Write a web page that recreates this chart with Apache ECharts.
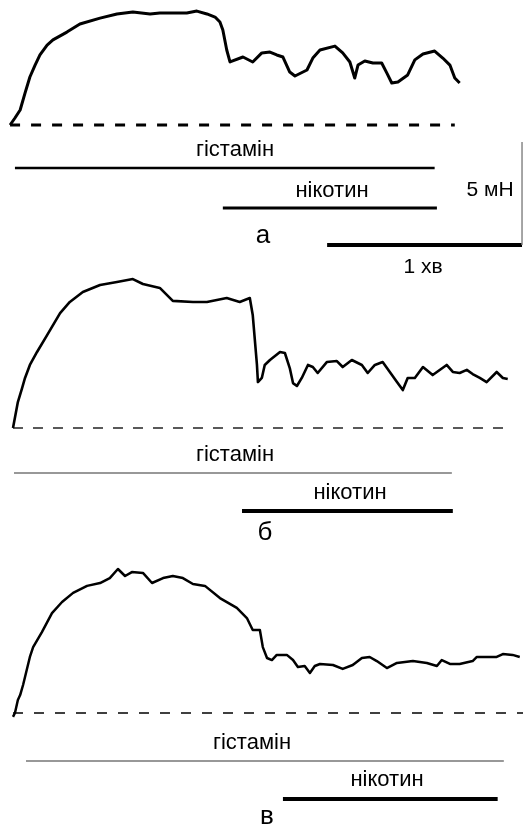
<!DOCTYPE html>
<html><head><meta charset="utf-8">
<script src="https://cdn.jsdelivr.net/npm/echarts@6/dist/echarts.min.js"></script>
<style>html,body{margin:0;padding:0;background:#fff}#c{width:523px;height:826px}</style>
</head><body><div id="c"></div>
<script>
// ---- DATA (time in s, force in mN) ----
const timeA = [3.1,4.6,6.2,7.7,9.2,10.8,12.3,14.5,16.3,20.6,24.6,30.8,36.0,40.9,46.2,49.2,54.5,57.5,60.6,63.7,66.2,67.7,68.6,69.8,70.8,74.8,77.8,80.6,83.1,85.2,87.1,89.2,90.8,94.5,96.3,98.5,103.1,105.5,107.7,109.2,110.2,112.3,114.8,117.5,119.1,120.6,122.5,125.5,127.7,130.2,133.8,136.3,138.5,140.0,141.5];
const forceA = [0,0.34,0.73,1.55,2.33,2.91,3.40,3.88,4.13,4.51,4.90,5.19,5.39,5.49,5.39,5.44,5.44,5.44,5.53,5.39,5.24,5.0,4.61,3.64,3.06,3.30,3.06,3.50,3.54,3.40,3.30,2.57,2.38,2.67,3.25,3.64,3.83,3.50,3.06,2.28,2.91,3.11,3.01,3.01,2.52,2.04,2.09,2.43,3.16,3.45,3.59,3.25,2.91,2.28,2.04];

const timeB = [4.0,5.5,6.8,7.7,9.2,11.4,14.5,18.5,21.5,25.5,30.8,36.0,40.9,44.0,49.2,53.2,59.4,63.7,69.8,73.8,76.9,77.8,79.1,79.4,80.6,81.5,83.1,86.2,87.7,89.2,90.2,91.4,92.9,94.8,96.3,97.8,100.6,103.7,105.5,108.3,111.4,113.2,115.4,117.8,120.0,122.2,124.0,125.5,127.7,130.2,133.2,137.5,139.4,141.5,143.7,145.5,147.7,149.8,152.9,154.8,156.3];
const forceB = [0,1.26,1.94,2.43,3.06,3.69,4.51,5.58,6.12,6.60,6.94,7.09,7.23,6.99,6.80,6.17,6.12,6.12,6.31,6.12,6.31,5.49,3.06,2.23,2.43,3.06,3.30,3.69,3.64,2.91,2.18,2.04,2.43,3.06,2.96,2.67,3.20,3.25,2.96,3.30,3.06,2.67,3.06,3.20,2.72,2.23,1.84,2.43,2.43,2.96,2.57,3.06,2.72,2.67,2.82,2.62,2.43,2.23,2.72,2.43,2.38];

const timeC = [4.0,4.6,5.5,6.2,7.1,7.7,9.2,10.2,12.9,16.0,19.1,22.5,26.8,30.8,33.8,36.3,38.5,40.6,44.0,46.8,50.2,53.2,56.3,59.4,63.1,67.7,72.9,76.0,77.8,80.0,80.9,82.2,83.7,85.2,88.3,90.2,91.7,93.8,95.4,96.9,98.5,102.5,105.5,108.6,111.4,113.8,116.0,119.1,122.2,127.1,131.4,134.5,136.0,138.5,141.5,145.5,146.8,149.8,152.9,154.8,157.8,160.0];
const forceC = [-0.19,0,0.63,0.87,1.36,1.75,2.72,3.20,3.93,4.85,5.39,5.83,6.17,6.31,6.55,6.99,6.65,6.84,6.80,6.31,6.55,6.65,6.55,6.26,6.17,5.58,5.10,4.61,4.03,4.03,3.20,2.67,2.57,2.82,2.82,2.57,2.23,2.28,1.94,2.28,2.38,2.33,2.14,2.33,2.67,2.72,2.52,2.18,2.43,2.52,2.43,2.28,2.57,2.38,2.38,2.52,2.72,2.72,2.72,2.86,2.82,2.72];

// drug application intervals [start, end] in s
const histamineA = [4.6, 133.8];
const nicotineA  = [68.6, 134.5];
const histamineB = [4.3, 139.1];
const nicotineB  = [74.5, 139.4];
const histamineC = [8.0, 155.1];
const nicotineC  = [87.1, 153.2];

// baseline (zero force) spans in s
const baselineA = [3.1, 140.0];
const baselineB = [4.0, 156.9];
const baselineC = [4.0, 161.0];

// calibration
const scaleTime = 60;   // s
const scaleForce = 5;   // mN

const panelLabels = ['а', 'б', 'в'];
const drugNames = ['гістамін', 'нікотин'];
const scaleLabels = ['1 хв', '5 мН'];

// ---- LAYOUT ----
const W = 523, X_MAX = 161, PX_PER_MN = 20.6;
const FONT = '"Liberation Sans", Arial, sans-serif';

const panels = [
  { time: timeA, force: forceA, hist: histamineA, nic: nicotineA, base: baselineA,
    baseY: 125, ymax: 6, traceW: 3, baseW: 3, dash: [10, 11],
    histY: 168, histW: 2.4, histC: '#000', nicY: 208, nicW: 2.8,
    histText: [235, 150], nicText: [332, 191], label: [263, 236] },
  { time: timeB, force: forceB, hist: histamineB, nic: nicotineB, base: baselineB,
    baseY: 428, ymax: 8, traceW: 2.6, baseW: 1.3, dash: [10, 10],
    histY: 473, histW: 1.2, histC: '#333', nicY: 511, nicW: 4,
    histText: [235, 455], nicText: [350, 493], label: [265, 533] },
  { time: timeC, force: forceC, hist: histamineC, nic: nicotineC, base: baselineC,
    baseY: 713, ymax: 8, traceW: 2.5, baseW: 1.3, dash: [10, 11],
    histY: 761, histW: 1.2, histC: '#333', nicY: 799, nicW: 4,
    histText: [252, 743], nicText: [387, 780], label: [267, 817] }
];

const grid = [], xAxis = [], yAxis = [], series = [], graphic = [];
function addGrid(top, height, ymin, ymax) {
  grid.push({ left: 0, top: top, width: W, height: height, containLabel: false });
  const i = grid.length - 1;
  xAxis.push({ type: 'value', gridIndex: i, min: 0, max: X_MAX, show: false });
  yAxis.push({ type: 'value', gridIndex: i, min: ymin, max: ymax, show: false });
  return i;
}
function line(i, data, width, color, type) {
  series.push({ type: 'line', xAxisIndex: i, yAxisIndex: i, data: data,
    symbol: 'none', showSymbol: false, clip: false, silent: true, animation: false,
    lineStyle: { color: color || '#000', width: width, type: type || 'solid', cap: 'butt', join: 'round' } });
}
function text(str, pos, size) {
  graphic.push({ type: 'text', x: pos[0], y: pos[1], silent: true,
    style: { text: str, font: size + 'px ' + FONT, fill: '#000', align: 'center', verticalAlign: 'middle' } });
}

panels.forEach((p, k) => {
  const gi = addGrid(p.baseY - p.ymax * PX_PER_MN, (p.ymax + 1) * PX_PER_MN, -1, p.ymax);
  line(gi, [[p.base[0], 0], [p.base[1], 0]], p.baseW, '#000', p.dash);
  line(gi, p.time.map((t, j) => [t, p.force[j]]), p.traceW, '#000');
  const hi = addGrid(p.histY - 10, 20, 0, 1);
  line(hi, [[p.hist[0], 0.5], [p.hist[1], 0.5]], p.histW, p.histC);
  const ni = addGrid(p.nicY - 10, 20, 0, 1);
  line(ni, [[p.nic[0], 0.5], [p.nic[1], 0.5]], p.nicW, '#000');
  text(drugNames[0], p.histText, 22);
  text(drugNames[1], p.nicText, 22);
  text(panelLabels[k], p.label, 26);
});

// calibration bars
const scaleEnd = 160.7;
const si = addGrid(245 - scaleForce * PX_PER_MN, scaleForce * PX_PER_MN, 0, scaleForce);
line(si, [[scaleEnd - scaleTime, 0], [scaleEnd, 0]], 4, '#000');
line(si, [[scaleEnd, 0], [scaleEnd, scaleForce]], 1.5, '#888');
text(scaleLabels[0], [423, 267], 21);
text(scaleLabels[1], [490, 190], 21);

const chart = echarts.init(document.getElementById('c'), null, { renderer: 'canvas' });
chart.setOption({ animation: false, backgroundColor: '#fff', grid, xAxis, yAxis, series, graphic });
</script>
</body></html>
